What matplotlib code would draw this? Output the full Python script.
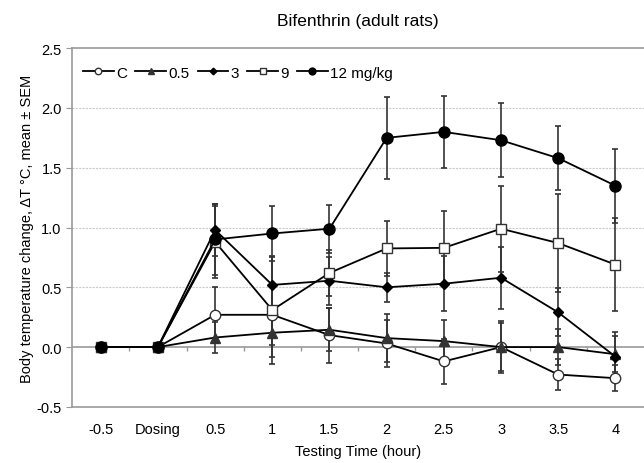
import matplotlib
matplotlib.use('Agg')
from matplotlib import pyplot as plt
import numpy as np

plt.rcParams['font.family'] = ['Liberation Sans', 'DejaVu Sans']

# Category labels on the x axis
time_labels = ['-0.5', 'Dosing', '0.5', '1', '1.5', '2', '2.5', '3', '3.5', '4']

# Mean temperature change per dose group
dose_names = ['C', '0.5', '3', '9', '12 mg/kg']
mean_c = [0, 0, 0.27, 0.27, 0.10, 0.03, -0.12, 0.0, -0.23, -0.26]
mean_05 = [0, 0, 0.08, 0.12, 0.145, 0.075, 0.05, 0.0, 0.0, -0.06]
mean_3 = [0, 0, 0.98, 0.52, 0.555, 0.50, 0.53, 0.58, 0.29, -0.08]
mean_9 = [0, 0, 0.88, 0.31, 0.62, 0.825, 0.83, 0.99, 0.87, 0.69]
mean_12 = [0, 0, 0.90, 0.95, 0.99, 1.75, 1.80, 1.73, 1.58, 1.35]

# SEM per dose group
sem_c = [0, 0, 0.23, 0.25, 0.23, 0.20, 0.19, 0.22, 0.13, 0.11]
sem_05 = [0, 0, 0.13, 0.20, 0.18, 0.20, 0.18, 0.20, 0.15, 0.15]
sem_3 = [0, 0, 0.22, 0.23, 0.20, 0.12, 0.23, 0.26, 0.20, 0.21]
sem_9 = [0, 0, 0.30, 0.45, 0.19, 0.23, 0.31, 0.36, 0.41, 0.39]
sem_12 = [0, 0, 0.30, 0.23, 0.20, 0.34, 0.30, 0.31, 0.27, 0.31]


def main():
    fig = plt.figure(figsize=(6.44, 4.64), dpi=100)
    ax = fig.add_axes([0.112, 0.121, 0.888, 0.773])
    x = np.arange(len(time_labels))

    # Marker styles for each series
    styles = [
        dict(marker='o', mfc='white', mec='#333333', ms=7.5),
        dict(marker='^', mfc='#333333', mec='#333333', ms=7),
        dict(marker='D', mfc='black', mec='black', ms=5.5),
        dict(marker='s', mfc='white', mec='#333333', ms=7.5),
        dict(marker='o', mfc='black', mec='black', ms=8),
    ]
    means = [mean_c, mean_05, mean_3, mean_9, mean_12]
    sems = [sem_c, sem_05, sem_3, sem_9, sem_12]

    handles = []
    for name, m, s, st in zip(dose_names, means, sems, styles):
        ax.errorbar(x, m, yerr=s, fmt='none', ecolor='#333333', elinewidth=1.2,
                    capsize=2.5, capthick=1.2, zorder=2)
        h, = ax.plot(x, m, color='black', lw=1.3, label=name, zorder=3, **st)
        handles.append(h)

    # Gridlines and the zero category axis
    for v in [0.5, 1.0, 1.5, 2.0]:
        ax.axhline(v, color='#cccccc', lw=0.8, ls=(0, (2, 1)), zorder=0)
    ax.axhline(0, color='#999999', lw=1.2, zorder=1)
    ax.vlines(np.arange(len(time_labels) - 1) + 0.5, -0.035, 0, color='#999999', lw=1.0, zorder=1)

    ax.set_xlim(-0.5, len(time_labels) - 0.5)
    ax.set_ylim(-0.5, 2.5)
    ax.set_xticks(x)
    ax.set_xticklabels(time_labels)
    ax.set_yticks(np.arange(-0.5, 2.51, 0.5))
    ax.set_yticklabels(['-0.5', '0.0', '0.5', '1.0', '1.5', '2.0', '2.5'])
    ax.tick_params(axis='x', length=0, pad=11, labelsize=10.5)
    ax.tick_params(axis='y', length=4, direction='out', color='#999999', labelsize=10.5)

    for side in ['left', 'top', 'bottom']:
        ax.spines[side].set_color('#999999')
        ax.spines[side].set_linewidth(1.2)
    ax.spines['right'].set_visible(False)

    ax.set_title('Bifenthrin (adult rats)', fontsize=12.5, pad=17)
    ax.set_xlabel('Testing Time (hour)', fontsize=10.5, labelpad=6)
    ax.set_ylabel('Body temperature change, \u0394T \u00b0C, mean \u00b1 SEM', fontsize=10.5, labelpad=2)

    ax.legend(handles=handles, loc='upper left', ncol=5, frameon=False, fontsize=11,
              handlelength=2.0, handletextpad=0.15, columnspacing=0.55,
              bbox_to_anchor=(-0.005, 0.99), markerscale=0.62)

    fig.savefig('out.png', dpi=100)


if __name__ == "__main__":
    main()
